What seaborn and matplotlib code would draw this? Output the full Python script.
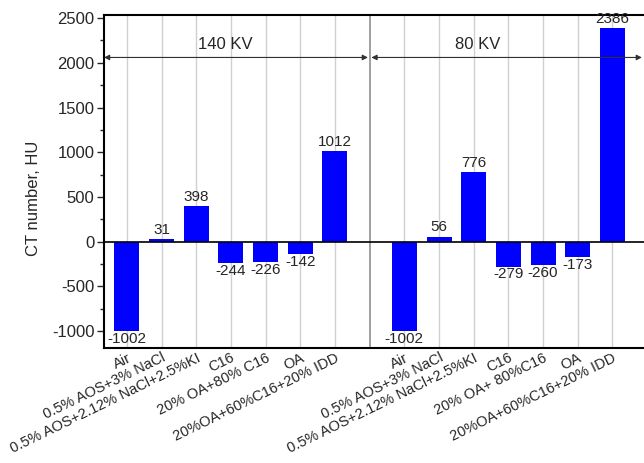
import numpy as np
import pandas as pd
import matplotlib
matplotlib.use("Agg")
import matplotlib.pyplot as plt
import seaborn as sns
from matplotlib.ticker import MultipleLocator

labels_140 = ["Air", "0.5% AOS+3% NaCl", "0.5% AOS+2.12% NaCl+2.5%KI", "C16",
              "20% OA+80% C16", "OA", "20%OA+60%C16+20% IDD"]
labels_80 = ["Air", "0.5% AOS+3% NaCl", "0.5% AOS+2.12% NaCl+2.5%KI", "C16",
             "20% OA+ 80%C16", "OA", "20%OA+60%C16+20% IDD"]
values_140 = [-1002, 31, 398, -244, -226, -142, 1012]
values_80 = [-1002, 56, 776, -279, -260, -173, 2386]
group_names = ["140 KV", "80 KV"]

sns.set_theme(style="white")
plt.rcParams['font.family'] = ['Liberation Sans', 'DejaVu Sans']
plt.rcParams['axes.unicode_minus'] = False

pos = list(range(len(labels_140))) + [len(labels_140) + 1 + i for i in range(len(labels_80))]
sep = len(labels_140)
df = pd.DataFrame({"pos": pos, "value": values_140 + values_80,
                   "label": labels_140 + labels_80})

fig = plt.figure(figsize=(6.44, 4.63), dpi=100)
x0 = 104 / 644
x1 = 670 / 644
y_top = 1 - 15 / 463
y_bot = 1 - 348 / 463
ax = fig.add_axes([x0, y_bot, x1 - x0, y_top - y_bot])

# grid lines at category positions
for p in pos:
    ax.axvline(p, color="#d0d0d0", lw=1, zorder=0)
ax.axvline(sep, color="#909090", lw=1.2, zorder=0)

sns.barplot(data=df, x="pos", y="value", native_scale=True, color="#0000FF",
            saturation=1, width=0.72, ax=ax, zorder=2, edgecolor="none")

ax.axhline(0, color="black", lw=1.2, zorder=3)

ax.set_xlim(-0.66, 15.66)
ax.set_ylim(-1190, 2535)

# value labels
for p, v in zip(df["pos"], df["value"]):
    if v >= 0:
        ax.text(p, v + 25, f"{v}", ha="center", va="bottom", fontsize=11)
    else:
        ax.text(p, v - 10, f"{v}", ha="center", va="top", fontsize=11)

# group arrows
arrow_y = 2060
ax.annotate("", xy=(-0.66, arrow_y), xytext=(sep - 0.05, arrow_y),
            arrowprops=dict(arrowstyle="<|-|>", color="#303030", lw=0.8,
                            mutation_scale=8, shrinkA=0, shrinkB=0))
ax.annotate("", xy=(sep + 0.05, arrow_y), xytext=(14.85, arrow_y),
            arrowprops=dict(arrowstyle="<|-|>", color="#303030", lw=0.8,
                            mutation_scale=8, shrinkA=0, shrinkB=0))
ax.text(2.84, 2205, group_names[0], ha="center", va="center", fontsize=12)
ax.text(10.12, 2205, group_names[1], ha="center", va="center", fontsize=12)

ax.set_xticks(pos)
ax.set_xticklabels(df["label"], rotation=26, ha="right", rotation_mode="anchor",
                   fontsize=10.5)
ax.tick_params(axis="x", length=0, pad=2)

ax.yaxis.set_major_locator(MultipleLocator(500))
ax.yaxis.set_minor_locator(MultipleLocator(250))
ax.tick_params(axis="y", which="major", direction="out", length=5, width=1,
               left=True, labelsize=12, pad=2)
ax.tick_params(axis="y", which="minor", direction="out", length=3, width=1,
               left=True)
ax.set_ylabel("CT number, HU", fontsize=12)
ax.yaxis.set_label_coords(-0.111, 0.45)
ax.set_xlabel("")

for side in ["top", "left", "bottom"]:
    ax.spines[side].set_color("black")
    ax.spines[side].set_linewidth(1.5)
ax.spines["right"].set_visible(False)

fig.savefig("out.png", dpi=100)
